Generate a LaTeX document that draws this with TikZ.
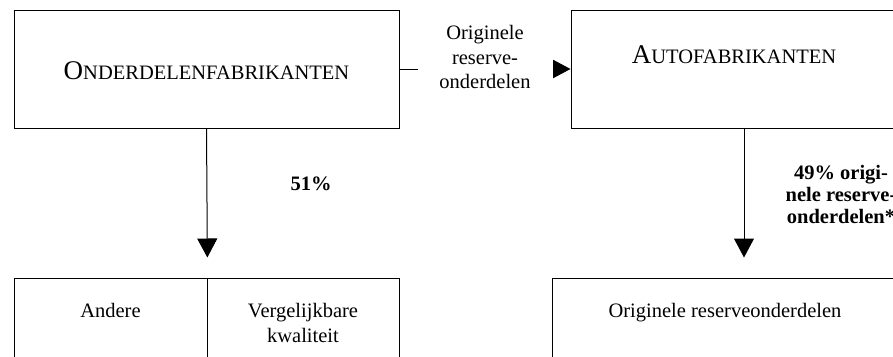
\documentclass[tikz,border=0pt]{standalone}
\usepackage{fontspec}
\setmainfont{Liberation Serif}
\usetikzlibrary{arrows.meta}
\newcommand{\capsname}[2]{{\fontsize{27pt}{27pt}\selectfont #1}{\fontsize{20.5pt}{24.5pt}\selectfont #2}}

\begin{document}
\begin{tikzpicture}[x=1pt,y=-1pt,line width=1pt,>={Triangle[length=19pt,width=20pt]},
  font=\fontsize{20.5pt}{24.5pt}\selectfont,
  box/.style={draw,inner sep=0pt,align=center},
  boxtext/.style 2 args={text height=#1,text depth=#2},
  pct/.style={inner sep=0pt,align=center,font=\fontsize{20.5pt}{22pt}\selectfont\bfseries}]
\useasboundingbox (0,0) rectangle (893,356);
\node [box,boxtext={69pt}{49pt},minimum width=385pt] (onderdeel) at (206.5,69) {\capsname{O}{NDERDELENFABRIKANTEN}};
\node [box,boxtext={53pt}{65pt},minimum width=326pt] (autofab) at (734,69) {\capsname{A}{UTOFABRIKANTEN}};
\node [box,boxtext={39pt}{103pt},minimum width=193pt] (andere) at (110.5,349) {Andere};
\node [box,boxtext={64pt}{78pt},minimum width=192pt] (vergelijk) at (303,349) {Vergelijkbare\\kwaliteit};
\node [box,boxtext={39pt}{103pt},minimum width=346pt] (origineel) at (725,349) {Originele reserveonderdelen};
\draw [->] (onderdeel) -- (autofab)
  node [midway,yshift=12pt,fill=white,inner sep=0pt,minimum width=135pt,align=center] (reservelabel) {Originele\\reserve-\\onderdelen};
\draw [->,shorten >=20pt] (onderdeel.south) -- (andere.north east);
\draw [->,shorten >=20pt] ([xshift=10pt]autofab.south) -- ([xshift=10pt]autofab.south |- origineel.north);
\node [pct] (pct51) at (311,184) {51\%};
\node [pct] (pct49) at (841,194) {49\% origi-\\nele reserve-\\onderdelen*};
\end{tikzpicture}
\end{document}
